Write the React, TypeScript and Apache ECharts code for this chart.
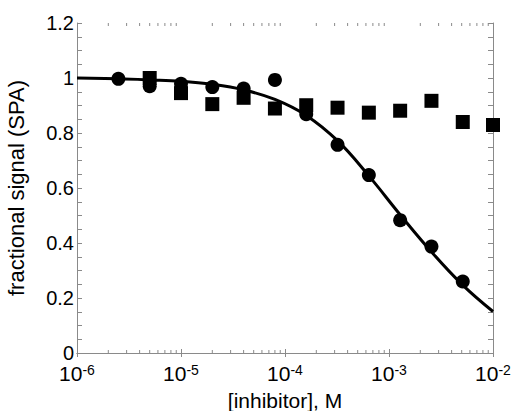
import React, { useEffect, useRef } from 'react';
import * as echarts from 'echarts';

// Circles (fitted compound)
const circleConc = [2.5e-6, 5e-6, 1e-5, 2e-5, 4e-5, 8e-5, 1.6e-4, 3.2e-4, 6.4e-4, 1.28e-3, 2.56e-3, 5.12e-3];
const circleSignal = [0.997, 0.97, 0.979, 0.967, 0.962, 0.993, 0.868, 0.757, 0.647, 0.483, 0.387, 0.26];
// Squares (inactive compound)
const squareConc = [5e-6, 1e-5, 2e-5, 4e-5, 8e-5, 1.6e-4, 3.2e-4, 6.4e-4, 1.28e-3, 2.56e-3, 5.12e-3, 1e-2];
const squareSignal = [1.0, 0.945, 0.905, 0.928, 0.889, 0.901, 0.892, 0.874, 0.881, 0.917, 0.84, 0.829];
// Fitted curve
const fitConc = [1e-6, 2.5e-6, 5e-6, 1e-5, 2e-5, 4e-5, 8e-5, 1.6e-4, 3.2e-4, 6.4e-4, 1.28e-3, 2.56e-3, 5.12e-3, 1e-2];
const fitSignal = [1.0, 0.997, 0.993, 0.988, 0.977, 0.957, 0.922, 0.864, 0.772, 0.644, 0.503, 0.368, 0.247, 0.151];
// Axis ticks
const xTickExponents = [-6, -5, -4, -3, -2];
const minorDecades = [-6, -5, -4, -3];
const minorMultipliers = [2, 3, 4, 5, 6, 7, 8, 9];
const yTickLabels = ['0', '0.2', '0.4', '0.6', '0.8', '1', '1.2'];

const FONT = '"Liberation Sans", Arial, Helvetica, sans-serif';
const GRAY = '#8a8a8a';

export default function App() {
  const ref = useRef<HTMLDivElement>(null);

  useEffect(() => {
    if (!ref.current) return;
    const chart = echarts.init(ref.current, undefined, { renderer: 'svg' });

    const minorTicks: number[][] = [];
    minorDecades.forEach((d) => {
      minorMultipliers.forEach((m) => {
        minorTicks.push([m * Math.pow(10, d), 0]);
      });
    });

    const xLabelFormatter = (v: number) => {
      const e = Math.round(Math.log10(v));
      if (xTickExponents.indexOf(e) < 0) return '';
      return `{b|10}{s|${e}}`;
    };
    const yLabelFormatter = (v: number) => {
      const idx = Math.round(v / 0.2);
      if (Math.abs(v - idx * 0.2) < 1e-6 && idx >= 0 && idx < yTickLabels.length) return yTickLabels[idx];
      return '';
    };

    const xCommon = {
      type: 'log' as const,
      logBase: 10,
      min: 1e-6,
      max: 1e-2,
      splitLine: { show: false },
      axisLine: { show: true, lineStyle: { color: GRAY, width: 1 } },
      axisTick: { show: true, inside: true, length: 4, lineStyle: { color: GRAY, width: 1 } },
    };
    const yCommon = {
      type: 'value' as const,
      min: 0,
      max: 1.2,
      interval: 0.05,
      splitLine: { show: false },
      axisLine: { show: true, lineStyle: { color: GRAY, width: 1 } },
      axisTick: { show: true, inside: true, length: 5, lineStyle: { color: GRAY, width: 1 } },
    };

    chart.setOption({
      animation: false,
      backgroundColor: '#ffffff',
      grid: {
        left: 77,
        top: 23,
        width: 416,
        height: 330,
        containLabel: false,
        outerBoundsMode: 'none',
      },
      xAxis: [
        {
          ...xCommon,
          position: 'bottom',
          name: '[inhibitor], M',
          nameLocation: 'middle',
          nameGap: 37,
          nameTextStyle: { fontFamily: FONT, fontSize: 21, lineHeight: 20, color: '#000' },
          axisLabel: {
            show: true,
            margin: 10,
            formatter: xLabelFormatter,
            rich: {
              b: { fontFamily: FONT, fontSize: 21, color: '#000', lineHeight: 21 },
              s: { fontFamily: FONT, fontSize: 14, color: '#000', lineHeight: 6, verticalAlign: 'top' },
            },
          },
        },
        {
          ...xCommon,
          position: 'top',
          axisLabel: { show: false },
        },
      ],
      yAxis: [
        {
          ...yCommon,
          position: 'left',
          name: 'fractional signal (SPA)',
          nameLocation: 'middle',
          nameGap: 50,
          nameTextStyle: { fontFamily: FONT, fontSize: 22, color: '#000' },
          axisLabel: {
            show: true,
            margin: 3,
            formatter: yLabelFormatter,
            fontFamily: FONT,
            fontSize: 20,
            lineHeight: 15,
            color: '#000',
          },
        },
        {
          ...yCommon,
          position: 'right',
          axisLabel: { show: false },
        },
      ],
      series: [
        {
          type: 'custom',
          xAxisIndex: 0,
          yAxisIndex: 0,
          silent: true,
          clip: false,
          data: minorTicks,
          encode: { x: 0, y: 1 },
          renderItem: (_params: any, api: any) => {
            const x = api.value(0);
            const b = api.coord([x, 0]);
            const t = api.coord([x, 1.2]);
            const style = { stroke: GRAY, lineWidth: 1 };
            return {
              type: 'group',
              children: [
                { type: 'line', shape: { x1: b[0], y1: b[1], x2: b[0], y2: b[1] - 3 }, style },
                { type: 'line', shape: { x1: t[0], y1: t[1], x2: t[0], y2: t[1] + 3 }, style },
              ],
            };
          },
        },
        {
          type: 'line',
          name: 'fit',
          data: fitConc.map((x, i) => [x, fitSignal[i]]),
          showSymbol: false,
          smooth: 0.4,
          lineStyle: { color: '#000', width: 3 },
          itemStyle: { color: '#000' },
          z: 3,
        },
        {
          type: 'scatter',
          name: 'circles',
          data: circleConc.map((x, i) => [x, circleSignal[i]]),
          symbol: 'circle',
          symbolSize: 14,
          itemStyle: { color: '#000', opacity: 1 },
          clip: false,
          z: 4,
        },
        {
          type: 'scatter',
          name: 'squares',
          data: squareConc.map((x, i) => [x, squareSignal[i]]),
          symbol: 'rect',
          symbolSize: 14,
          itemStyle: { color: '#000', opacity: 1 },
          clip: false,
          z: 4,
        },
      ],
    });

    return () => {
      chart.dispose();
    };
  }, []);

  return (
    <div
      ref={ref}
      style={{ position: 'fixed', left: 0, top: 0, width: 514, height: 411, background: '#fff' }}
    />
  );
}
